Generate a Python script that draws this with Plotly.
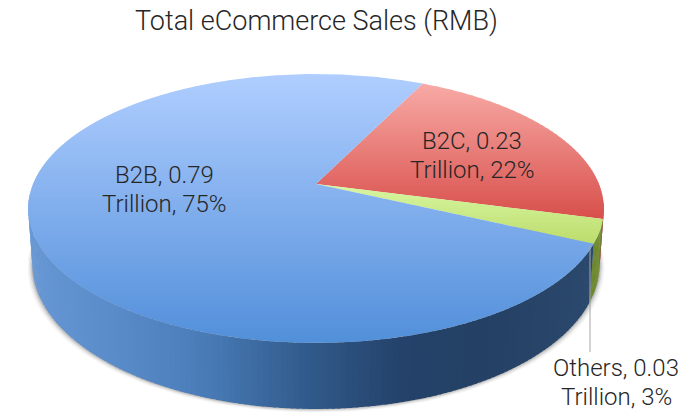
import numpy as np
import plotly.graph_objects as go

labels = ["B2C", "Others", "B2B"]
values = [0.23, 0.03, 0.79]
percents = [22, 3, 75]
title_text = "Total eCommerce Sales (RMB)"

# gradient colours: (top colour, bottom colour) for lids, and wall colours
lid_grad = {"B2C": ((248, 170, 166), (216, 80, 76)),
            "Others": ((216, 246, 162), (188, 220, 108)),
            "B2B": ((176, 206, 255), (82, 143, 218))}
wall_col = {"B2C": (150, 50, 48), "Others": (108, 136, 44)}
wall_stops_x = [27, 110, 200, 300, 400, 480, 600]
wall_stops = [(104, 152, 214), (90, 140, 202), (74, 125, 184), (50, 92, 142),
              (36, 66, 106), (36, 64, 100), (44, 74, 110)]

# projection of the pie disc onto the page (pixel axes)
CX, CY, BX, AY, K, START, H, SHRINK = 316, 184, 283, 130, 0.182, 26.0, 54, 0.985


def project(phi, r=1.0, drop=False):
    a = np.radians(phi)
    u, v = r * np.sin(a), -r * np.cos(a)
    w = 1 - K * v
    x, y = BX * u / w, AY * v / w
    if drop:
        return CX + SHRINK * x, CY + y + H / w
    return CX + x, CY + y


def clip(px, py, ylim, keep_below):
    ox, oy = [], []
    n = len(px)
    for i in range(n):
        x1, y1, x2, y2 = px[i], py[i], px[(i + 1) % n], py[(i + 1) % n]
        in1 = y1 >= ylim if keep_below else y1 <= ylim
        in2 = y2 >= ylim if keep_below else y2 <= ylim
        if in1:
            ox.append(x1); oy.append(y1)
        if in1 != in2:
            t = (ylim - y1) / (y2 - y1)
            ox.append(x1 + t * (x2 - x1)); oy.append(ylim)
    return ox, oy


def rgb(c):
    return "rgb(%d,%d,%d)" % tuple(int(round(i)) for i in c)


def mix(a, b, t):
    return [a[i] + (b[i] - a[i]) * t for i in range(3)]


fig = go.Figure()


def poly(x, y, color):
    fig.add_trace(go.Scatter(x=list(x) + [x[0]], y=list(y) + [y[0]], mode="lines",
                             fill="toself", fillcolor=color, line=dict(width=0),
                             hoverinfo="skip", showlegend=False))


# shadow beneath the wall
ring = np.linspace(0, 360, 200)
for off, alpha in [(5, 0.05), (3.5, 0.08), (2.2, 0.12), (1, 0.18)]:
    bx, by = project(ring, drop=True)
    bx = CX + (bx - CX) * (1 + off / 290)
    mask = by > 225
    poly(bx[mask], (by + off * 0.7)[mask], "rgba(60,60,60,%.2f)" % alpha)

total = sum(values)
spans = []
cur = START
for lab, val in zip(labels, values):
    spans.append((lab, cur, cur + 360 * val / total))
    cur += 360 * val / total

# wall
edge = np.degrees(np.arccos(-K))
for lab, a0, a1 in spans:
    lo, hi = max(a0, edge - 3), min(a1, 360 - edge + 6)
    if hi <= lo:
        continue
    steps = int((hi - lo) / 1.0) + 1
    grid = np.linspace(lo, hi, steps + 1)
    for p, q in zip(grid[:-1], grid[1:]):
        q2 = min(q + 0.4, hi)
        tx, ty = project(np.array([p, q2]))
        dx, dy = project(np.array([q2, p]), drop=True)
        if lab in wall_col:
            col = wall_col[lab]
        else:
            mx = (tx.mean() + dx.mean()) / 2
            col = [np.interp(mx, wall_stops_x, [s[i] for s in wall_stops]) for i in range(3)]
        poly(list(tx) + list(dx), list(ty) + list(dy), rgb(col))

# lid, painted as thin horizontal bands for the vertical gradient
for lab, a0, a1 in spans:
    arc = np.linspace(a0, a1, max(int(a1 - a0) * 2, 8))
    ax, ay = project(arc)
    px, py = [CX] + list(ax), [CY] + list(ay)
    ymin, ymax = min(py), max(py)
    edges = np.arange(ymin, ymax + 3, 3.0)
    for i in range(len(edges) - 1):
        x1, y1 = clip(px, py, edges[i], True)
        if not x1:
            continue
        x2, y2 = clip(x1, y1, edges[i + 1] + 0.6, False)
        if len(x2) < 3:
            continue
        t = (edges[i] + 1.5 - ymin) / (ymax - ymin)
        poly(x2, y2, rgb(mix(*lid_grad[lab], min(t, 1))))

# leader line for the small slice
fig.add_shape(type="line", x0=590, x1=590, y0=246, y1=352,
              line=dict(color="#a6a6a6", width=1))

font = dict(family="Roboto", size=24, color="#262626", weight=300)
label_pos = {"B2B": (164, 175), "B2C": (472, 141), "Others": (616, 368)}
LINE_GAP = 28.5
for lab, val, pct in zip(labels, values, percents):
    x, y = label_pos[lab]
    fig.add_annotation(x=x, y=y, xref="x", yref="y", showarrow=False,
                       text=f"{lab}, {val:.2f}", font=font)
    fig.add_annotation(x=x, y=y + LINE_GAP, xref="x", yref="y", showarrow=False,
                       text=f"Trillion, {pct}%", font=font)

fig.add_annotation(x=316, y=21, xref="x", yref="y", showarrow=False, text=title_text,
                   font=dict(family="Roboto", size=27, color="#262626", weight=300))

fig.update_layout(width=700, height=420, margin=dict(l=0, r=0, t=0, b=0),
                  paper_bgcolor="white", plot_bgcolor="white", showlegend=False,
                  xaxis=dict(range=[0, 700], visible=False, fixedrange=True),
                  yaxis=dict(range=[420, 0], visible=False, fixedrange=True))
fig.write_html("out.html", config=dict(displayModeBar=False),
               post_script="document.body.style.margin='0';document.body.style.overflow='hidden';")
